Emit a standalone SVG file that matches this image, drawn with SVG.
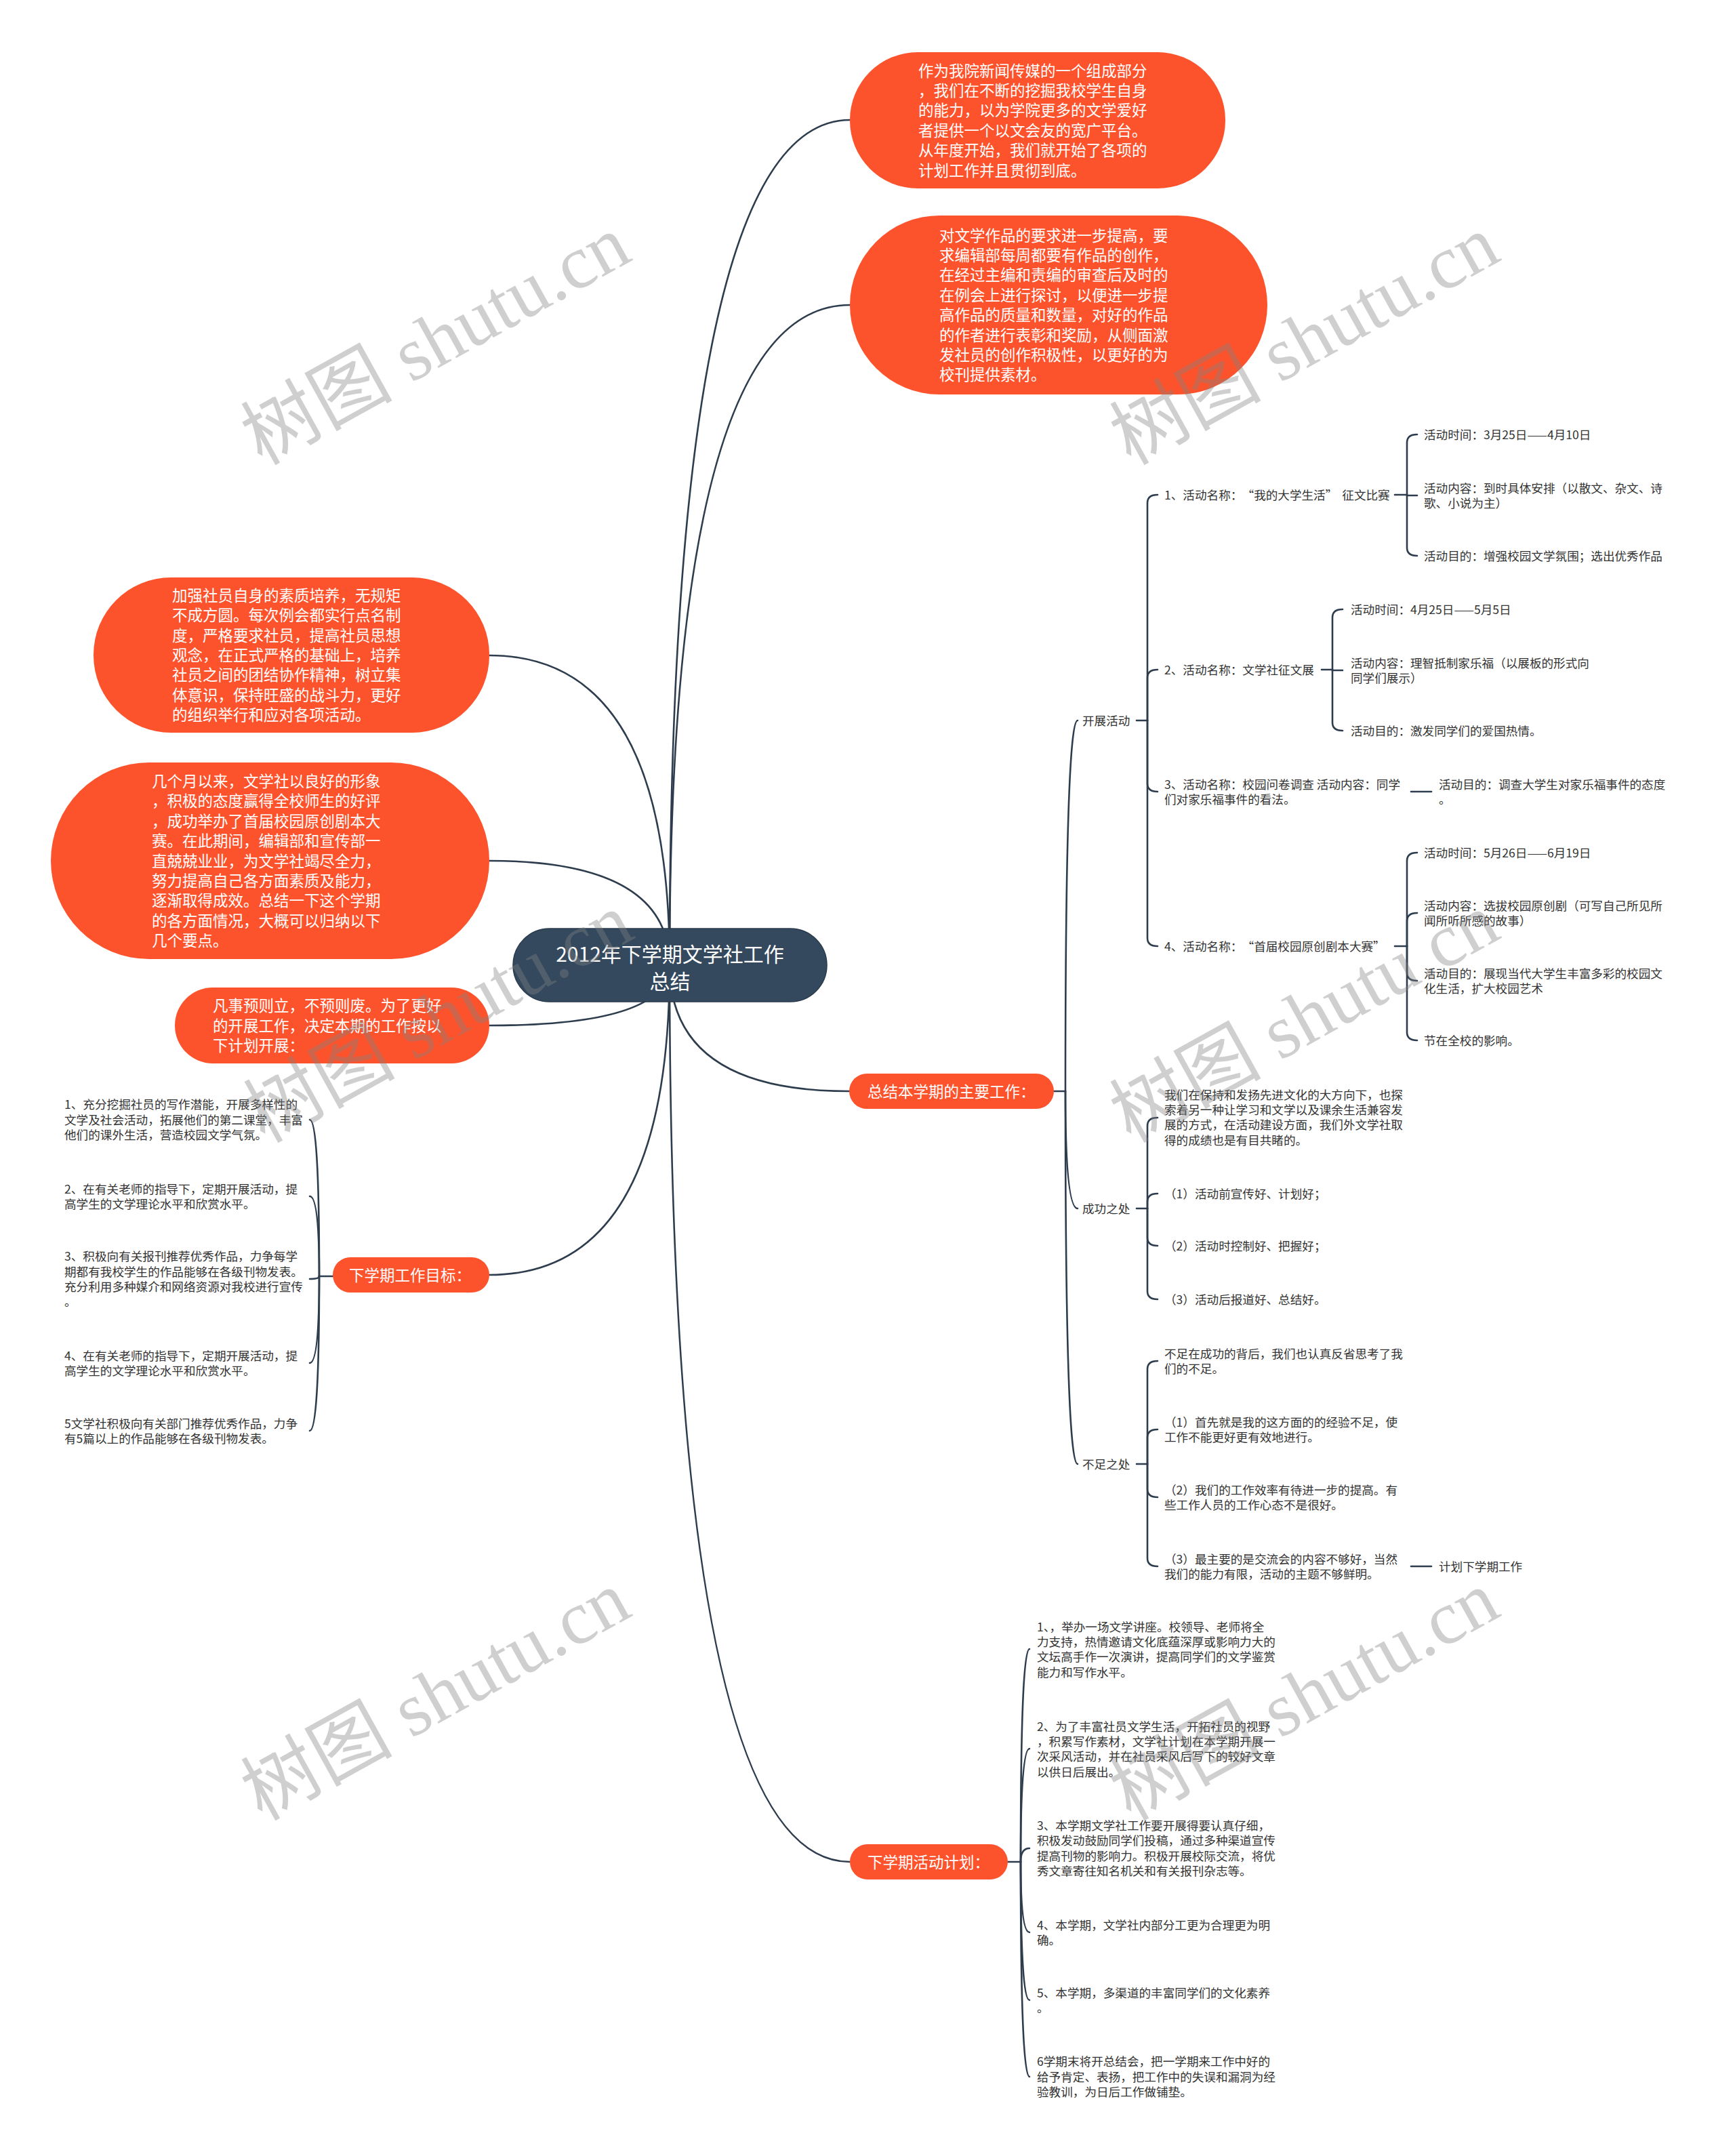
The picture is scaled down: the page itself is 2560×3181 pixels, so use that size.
<svg xmlns="http://www.w3.org/2000/svg" width="2560" height="3181" viewBox="0 0 2560 3181">
<style>
text{font-family:'Noto Sans CJK SC','Noto Sans',sans-serif}
.c{fill:none;stroke:#2e3d4d;stroke-width:2.6;stroke-linecap:round}
.on{fill:#fc532d}
.ot{fill:#ffffff;font-size:22.5px}
.t{fill:#333333;font-size:17.6px}
.ct{fill:#ffffff;font-size:30px}
.wm{fill:#808080;fill-opacity:0.38;font-size:112px;font-family:'Liberation Serif','Noto Sans CJK SC',serif}
</style>
<rect x="0" y="0" width="2560" height="3181" fill="#ffffff"/>
<g id="connectors">
<path class="c" d="M988 1424 Q988 177 1254 177"/>
<path class="c" d="M988 1424 Q988 450 1254 450"/>
<path class="c" d="M988 1424 Q988 967 722 967"/>
<path class="c" d="M988 1424 Q988 1270 722 1270"/>
<path class="c" d="M988 1424 Q988 1513 722 1513"/>
<path class="c" d="M988 1424 Q988 1881 722 1881"/>
<path class="c" d="M988 1424 Q988 1610 1253 1610"/>
<path class="c" d="M988 1424 Q988 2747 1254 2747"/>
<path class="c" d="M491 1883 H471"/>
<path class="c" d="M471 1883 Q471 1652 457 1652"/>
<path class="c" d="M471 1883 Q471 1765 457 1765"/>
<path class="c" d="M471 1883 Q471 1887 457 1887"/>
<path class="c" d="M471 1883 Q471 2011 457 2011"/>
<path class="c" d="M471 1883 Q471 2111 457 2111"/>
<path class="c" d="M1555 1610 H1572"/>
<path class="c" d="M1572 1610 Q1572 1063 1590 1063"/>
<path class="c" d="M1572 1610 Q1572 1783 1590 1783"/>
<path class="c" d="M1572 1610 Q1572 2160 1590 2160"/>
<path class="c" d="M1677 1063 H1693"/>
<path class="c" d="M1693 1063 V742 Q1693 730 1708 730"/>
<path class="c" d="M1693 1063 V1000 Q1693 988 1708 988"/>
<path class="c" d="M1693 1063 V1156 Q1693 1168 1708 1168"/>
<path class="c" d="M1693 1063 V1384 Q1693 1396 1708 1396"/>
<path class="c" d="M2058 730 H2076"/>
<path class="c" d="M2076 730 V653 Q2076 641 2091 641"/>
<path class="c" d="M2076 730 V731 H2091"/>
<path class="c" d="M2076 730 V808 Q2076 820 2091 820"/>
<path class="c" d="M1950 988 H1966"/>
<path class="c" d="M1966 988 V911 Q1966 899 1981 899"/>
<path class="c" d="M1966 988 V989 H1981"/>
<path class="c" d="M1966 988 V1066 Q1966 1078 1981 1078"/>
<path class="c" d="M2082 1168 H2112"/>
<path class="c" d="M2058 1396 H2076"/>
<path class="c" d="M2076 1396 V1270 Q2076 1258 2091 1258"/>
<path class="c" d="M2076 1396 V1359 Q2076 1347 2091 1347"/>
<path class="c" d="M2076 1396 V1435 Q2076 1447 2091 1447"/>
<path class="c" d="M2076 1396 V1523 Q2076 1535 2091 1535"/>
<path class="c" d="M1677 1783 H1693"/>
<path class="c" d="M1693 1783 V1661 Q1693 1649 1708 1649"/>
<path class="c" d="M1693 1783 V1773 Q1693 1761 1708 1761"/>
<path class="c" d="M1693 1783 V1826 Q1693 1838 1708 1838"/>
<path class="c" d="M1693 1783 V1905 Q1693 1917 1708 1917"/>
<path class="c" d="M1677 2160 H1693"/>
<path class="c" d="M1693 2160 V2020 Q1693 2008 1708 2008"/>
<path class="c" d="M1693 2160 V2121 Q1693 2109 1708 2109"/>
<path class="c" d="M1693 2160 V2197 Q1693 2209 1708 2209"/>
<path class="c" d="M1693 2160 V2299 Q1693 2311 1708 2311"/>
<path class="c" d="M2082 2311 H2112"/>
<path class="c" d="M1487 2747 H1506"/>
<path class="c" d="M1506 2747 Q1506 2433 1519 2433"/>
<path class="c" d="M1506 2747 Q1506 2580 1519 2580"/>
<path class="c" d="M1506 2747 Q1506 2727 1519 2727"/>
<path class="c" d="M1506 2747 Q1506 2851 1519 2851"/>
<path class="c" d="M1506 2747 Q1506 2951 1519 2951"/>
<path class="c" d="M1506 2747 Q1506 3064 1519 3064"/>
</g>

<g id="center">
<rect x="757" y="1370" width="463" height="108" rx="54" fill="#35495e" stroke="#2a3a4b" stroke-width="1.5"/>
<text class="ct" text-anchor="middle"><tspan x="988.5" y="1419">2012年下学期文学社工作</tspan><tspan x="988.5" y="1459">总结</tspan></text>
</g>

<g id="n-t1">
<rect class="on" x="1254" y="77" width="554" height="201" rx="100"/>
<text class="ot"><tspan x="1355" y="112.5">作为我院新闻传媒的一个组成部分</tspan><tspan x="1355" y="141.9">，我们在不断的挖掘我校学生自身</tspan><tspan x="1355" y="171.3">的能力，以为学院更多的文学爱好</tspan><tspan x="1355" y="200.7">者提供一个以文会友的宽广平台。</tspan><tspan x="1355" y="230.1">从年度开始，我们就开始了各项的</tspan><tspan x="1355" y="259.5">计划工作并且贯彻到底。</tspan></text>
</g>

<g id="n-t2">
<rect class="on" x="1254" y="318" width="616" height="264" rx="132"/>
<text class="ot"><tspan x="1386" y="355.6">对文学作品的要求进一步提高，要</tspan><tspan x="1386" y="385">求编辑部每周都要有作品的创作，</tspan><tspan x="1386" y="414.4">在经过主编和责编的审查后及时的</tspan><tspan x="1386" y="443.8">在例会上进行探讨，以便进一步提</tspan><tspan x="1386" y="473.2">高作品的质量和数量，对好的作品</tspan><tspan x="1386" y="502.6">的作者进行表彰和奖励，从侧面激</tspan><tspan x="1386" y="532">发社员的创作积极性，以更好的为</tspan><tspan x="1386" y="561.4">校刊提供素材。</tspan></text>
</g>

<g id="n-l1">
<rect class="on" x="138" y="852" width="584" height="229" rx="114"/>
<text class="ot"><tspan x="254" y="886.8">加强社员自身的素质培养，无规矩</tspan><tspan x="254" y="916.2">不成方圆。每次例会都实行点名制</tspan><tspan x="254" y="945.6">度，严格要求社员，提高社员思想</tspan><tspan x="254" y="975">观念，在正式严格的基础上，培养</tspan><tspan x="254" y="1004.4">社员之间的团结协作精神，树立集</tspan><tspan x="254" y="1033.8">体意识，保持旺盛的战斗力，更好</tspan><tspan x="254" y="1063.2">的组织举行和应对各项活动。</tspan></text>
</g>

<g id="n-l2">
<rect class="on" x="75" y="1125" width="647" height="290" rx="145"/>
<text class="ot"><tspan x="224" y="1160.9">几个月以来，文学社以良好的形象</tspan><tspan x="224" y="1190.3">，积极的态度赢得全校师生的好评</tspan><tspan x="224" y="1219.7">，成功举办了首届校园原创剧本大</tspan><tspan x="224" y="1249.1">赛。在此期间，编辑部和宣传部一</tspan><tspan x="224" y="1278.5">直兢兢业业，为文学社竭尽全力，</tspan><tspan x="224" y="1307.9">努力提高自己各方面素质及能力，</tspan><tspan x="224" y="1337.3">逐渐取得成效。总结一下这个学期</tspan><tspan x="224" y="1366.7">的各方面情况，大概可以归纳以下</tspan><tspan x="224" y="1396.1">几个要点。</tspan></text>
</g>

<g id="n-l3">
<rect class="on" x="258" y="1457" width="464" height="112" rx="56"/>
<text class="ot"><tspan x="314" y="1492.1">凡事预则立，不预则废。为了更好</tspan><tspan x="314" y="1521.5">的开展工作，决定本期的工作按以</tspan><tspan x="314" y="1550.9">下计划开展：</tspan></text>
</g>

<g id="n-goal">
<rect class="on" x="491" y="1855" width="231" height="52" rx="26"/>
<text class="ot" x="515" y="1889.5">下学期工作目标：</text>
</g>

<g id="goal-items">
<text class="t"><tspan x="95" y="1636.3">1、充分挖掘社员的写作潜能，开展多样性的</tspan><tspan x="95" y="1658.6">文学及社会活动，拓展他们的第二课堂，丰富</tspan><tspan x="95" y="1680.9">他们的课外生活，营造校园文学气氛。</tspan></text>
<text class="t"><tspan x="95" y="1760.5">2、在有关老师的指导下，定期开展活动，提</tspan><tspan x="95" y="1782.8">高学生的文学理论水平和欣赏水平。</tspan></text>
<text class="t"><tspan x="95" y="1860.2">3、积极向有关报刊推荐优秀作品，力争每学</tspan><tspan x="95" y="1882.5">期都有我校学生的作品能够在各级刊物发表。</tspan><tspan x="95" y="1904.8">充分利用多种媒介和网络资源对我校进行宣传</tspan><tspan x="95" y="1927.1">。</tspan></text>
<text class="t"><tspan x="95" y="2006.5">4、在有关老师的指导下，定期开展活动，提</tspan><tspan x="95" y="2028.8">高学生的文学理论水平和欣赏水平。</tspan></text>
<text class="t"><tspan x="95" y="2106.5">5文学社积极向有关部门推荐优秀作品，力争</tspan><tspan x="95" y="2128.8">有5篇以上的作品能够在各级刊物发表。</tspan></text>
</g>

<g id="n-summary">
<rect class="on" x="1253" y="1584" width="302" height="52" rx="26"/>
<text class="ot" x="1280" y="1618.5">总结本学期的主要工作：</text>
</g>

<g id="n-kaizhan">
<text class="t" x="1597" y="1069.6">开展活动</text>
</g>
<g id="act1">
<text class="t" x="1718" y="736.6">1、活动名称：<tspan dx="8">“</tspan>我的大学生活”<tspan dx="7">征文比赛</tspan></text>
<text class="t" x="2101" y="647.6">活动时间：3月25日——4月10日</text>
<text class="t"><tspan x="2101" y="726.5">活动内容：到时具体安排（以散文、杂文、诗</tspan><tspan x="2101" y="748.8">歌、小说为主）</tspan></text>
<text class="t" x="2101" y="826.6">活动目的：增强校园文学氛围；选出优秀作品</text>
</g>
<g id="act2">
<text class="t" x="1718" y="994.6">2、活动名称：文学社征文展</text>
<text class="t" x="1993" y="905.6">活动时间：4月25日——5月5日</text>
<text class="t"><tspan x="1993" y="984.5">活动内容：理智抵制家乐福（以展板的形式向</tspan><tspan x="1993" y="1006.8">同学们展示）</tspan></text>
<text class="t" x="1993" y="1084.6">活动目的：激发同学们的爱国热情。</text>
</g>
<g id="act3">
<text class="t"><tspan x="1718" y="1163.5">3、活动名称：校园问卷调查 活动内容：同学</tspan><tspan x="1718" y="1185.8">们对家乐福事件的看法。</tspan></text>
<text class="t"><tspan x="2123" y="1163.5">活动目的：调查大学生对家乐福事件的态度</tspan><tspan x="2123" y="1185.8">。</tspan></text>
</g>
<g id="act4">
<text class="t" x="1718" y="1402.6">4、活动名称：<tspan dx="8">“</tspan>首届校园原创剧本大赛”</text>
<text class="t" x="2101" y="1264.6">活动时间：5月26日——6月19日</text>
<text class="t"><tspan x="2101" y="1342.5">活动内容：选拔校园原创剧（可写自己所见所</tspan><tspan x="2101" y="1364.8">闻所听所感的故事）</tspan></text>
<text class="t"><tspan x="2101" y="1442.5">活动目的：展现当代大学生丰富多彩的校园文</tspan><tspan x="2101" y="1464.8">化生活，扩大校园艺术</tspan></text>
<text class="t" x="2101" y="1541.6">节在全校的影响。</text>
</g>

<g id="n-success">
<text class="t" x="1597" y="1789.6">成功之处</text>
<text class="t"><tspan x="1718" y="1621.7">我们在保持和发扬先进文化的大方向下，也探</tspan><tspan x="1718" y="1644">索着另一种让学习和文学以及课余生活兼容发</tspan><tspan x="1718" y="1666.3">展的方式，在活动建设方面，我们外文学社取</tspan><tspan x="1718" y="1688.6">得的成绩也是有目共睹的。</tspan></text>
<text class="t" x="1718" y="1767.6">（1）活动前宣传好、计划好；</text>
<text class="t" x="1718" y="1844.6">（2）活动时控制好、把握好；</text>
<text class="t" x="1718" y="1923.6">（3）活动后报道好、总结好。</text>
</g>

<g id="n-shortfall">
<text class="t" x="1597" y="2166.6">不足之处</text>
<text class="t"><tspan x="1718" y="2003.5">不足在成功的背后，我们也认真反省思考了我</tspan><tspan x="1718" y="2025.8">们的不足。</tspan></text>
<text class="t"><tspan x="1718" y="2104.5">（1）首先就是我的这方面的的经验不足，使</tspan><tspan x="1718" y="2126.8">工作不能更好更有效地进行。</tspan></text>
<text class="t"><tspan x="1718" y="2204.5">（2）我们的工作效率有待进一步的提高。有</tspan><tspan x="1718" y="2226.8">些工作人员的工作心态不是很好。</tspan></text>
<text class="t"><tspan x="1718" y="2306.5">（3）最主要的是交流会的内容不够好，当然</tspan><tspan x="1718" y="2328.8">我们的能力有限，活动的主题不够鲜明。</tspan></text>
<text class="t" x="2123" y="2317.6">计划下学期工作</text>
</g>

<g id="n-plan">
<rect class="on" x="1254" y="2721" width="233" height="52" rx="26"/>
<text class="ot" x="1280" y="2755.5">下学期活动计划：</text>
</g>

<g id="plan-items">
<text class="t"><tspan x="1530" y="2406.6">1、，举办一场文学讲座。校领导、老师将全</tspan><tspan x="1530" y="2428.9">力支持，热情邀请文化底蕴深厚或影响力大的</tspan><tspan x="1530" y="2451.2">文坛高手作一次演讲，提高同学们的文学鉴赏</tspan><tspan x="1530" y="2473.5">能力和写作水平。</tspan></text>
<text class="t"><tspan x="1530" y="2553.6">2、为了丰富社员文学生活，开拓社员的视野</tspan><tspan x="1530" y="2575.9">，积累写作素材，文学社计划在本学期开展一</tspan><tspan x="1530" y="2598.2">次采风活动，并在社员采风后写下的较好文章</tspan><tspan x="1530" y="2620.5">以供日后展出。</tspan></text>
<text class="t"><tspan x="1530" y="2700.1">3、本学期文学社工作要开展得要认真仔细，</tspan><tspan x="1530" y="2722.4">积极发动鼓励同学们投稿，通过多种渠道宣传</tspan><tspan x="1530" y="2744.7">提高刊物的影响力。积极开展校际交流，将优</tspan><tspan x="1530" y="2767">秀文章寄往知名机关和有关报刊杂志等。</tspan></text>
<text class="t"><tspan x="1530" y="2846.5">4、本学期，文学社内部分工更为合理更为明</tspan><tspan x="1530" y="2868.8">确。</tspan></text>
<text class="t"><tspan x="1530" y="2946.5">5、本学期，多渠道的丰富同学们的文化素养</tspan><tspan x="1530" y="2968.8">。</tspan></text>
<text class="t"><tspan x="1530" y="3048.3">6学期末将开总结会，把一学期来工作中好的</tspan><tspan x="1530" y="3070.6">给予肯定、表扬，把工作中的失误和漏洞为经</tspan><tspan x="1530" y="3092.9">验教训，为日后工作做铺垫。</tspan></text>
</g>

<g id="watermarks">
<text class="wm" text-anchor="middle" transform="translate(661 535) rotate(-29)">树图 shutu.cn</text>
<text class="wm" text-anchor="middle" transform="translate(1943 535) rotate(-29)">树图 shutu.cn</text>
<text class="wm" text-anchor="middle" transform="translate(665 1535) rotate(-29)">树图 shutu.cn</text>
<text class="wm" text-anchor="middle" transform="translate(1943 1535) rotate(-29)">树图 shutu.cn</text>
<text class="wm" text-anchor="middle" transform="translate(661 2535) rotate(-29)">树图 shutu.cn</text>
<text class="wm" text-anchor="middle" transform="translate(1943 2535) rotate(-29)">树图 shutu.cn</text>
</g>
</svg>
